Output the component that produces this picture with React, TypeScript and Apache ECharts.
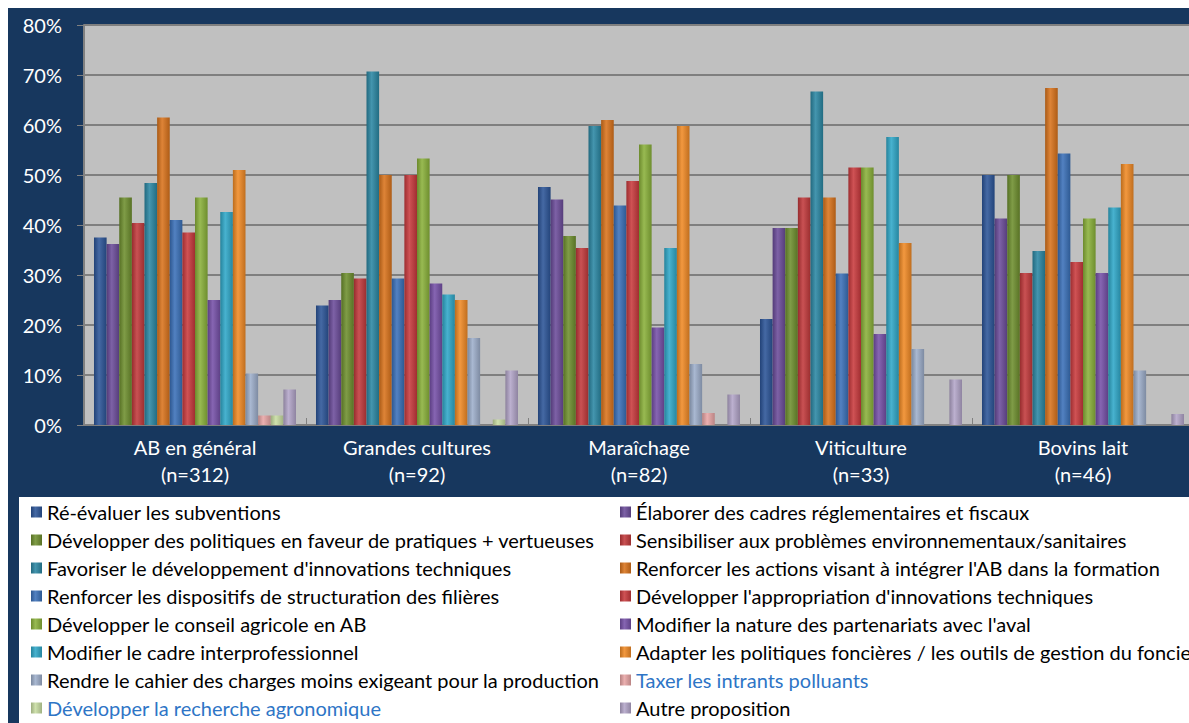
import React, { useEffect, useRef } from "react";
import * as echarts from "echarts";

const categories = [
  "AB en général\n(n=312)",
  "Grandes cultures\n(n=92)",
  "Maraîchage\n(n=82)",
  "Viticulture\n(n=33)",
  "Bovins lait\n(n=46)",
];

const seriesNames = [
  "Ré-évaluer les subventions",
  "Élaborer des cadres réglementaires et fiscaux",
  "Développer des politiques en faveur de pratiques + vertueuses",
  "Sensibiliser aux problèmes environnementaux/sanitaires",
  "Favoriser le développement d'innovations techniques",
  "Renforcer les actions visant à intégrer l'AB dans la formation",
  "Renforcer les dispositifs de structuration des filières",
  "Développer l'appropriation d'innovations techniques",
  "Développer le conseil agricole en AB",
  "Modifier la nature des partenariats avec l'aval",
  "Modifier le cadre interprofessionnel",
  "Adapter les politiques foncières / les outils de gestion du foncier",
  "Rendre le cahier des charges moins exigeant pour la production",
  "Taxer les intrants polluants",
  "Développer la recherche agronomique",
  "Autre proposition",
];

// values (%) per category, in the order of seriesNames
const abGeneral = [37.5, 36.2, 45.5, 40.4, 48.4, 61.5, 41.0, 38.5, 45.5, 25.0, 42.6, 51.0, 10.3, 1.9, 1.9, 7.1];
const grandesCultures = [23.9, 25.0, 30.4, 29.3, 70.7, 50.0, 29.3, 50.0, 53.3, 28.3, 26.1, 25.0, 17.4, 0, 1.1, 10.9];
const maraichage = [47.6, 45.1, 37.8, 35.4, 59.8, 61.0, 43.9, 48.8, 56.1, 19.5, 35.4, 59.8, 12.2, 2.4, 0, 6.1];
const viticulture = [21.2, 39.4, 39.4, 45.5, 66.7, 45.5, 30.3, 51.5, 51.5, 18.2, 57.6, 36.4, 15.2, 0, 0, 9.1];
const bovinsLait = [50.0, 41.3, 50.0, 30.4, 34.8, 67.4, 54.3, 32.6, 41.3, 30.4, 43.5, 52.2, 10.9, 0, 0, 2.2];

const yTicks = [0, 10, 20, 30, 40, 50, 60, 70, 80];

const seriesColors = [
  "#2C5598", "#6B4C9A", "#6E8F2E", "#C2393B",
  "#2B87A3", "#D9731C", "#3A70B8", "#C93A3D",
  "#8AB13A", "#7650A8", "#2FA8C8", "#F08A25",
  "#9DAECB", "#E8A5A5", "#C8DDA2", "#B3A5C9",
];

const blueLegend = ["Taxer les intrants polluants", "Développer la recherche agronomique"];

function shade(hex: string, f: number): string {
  const n = parseInt(hex.slice(1), 16);
  let r = (n >> 16) & 255, g = (n >> 8) & 255, b = n & 255;
  if (f < 1) {
    r = Math.round(r * f); g = Math.round(g * f); b = Math.round(b * f);
  } else {
    const t = f - 1;
    r = Math.round(r + (255 - r) * t); g = Math.round(g + (255 - g) * t); b = Math.round(b + (255 - b) * t);
  }
  return "#" + [r, g, b].map((v) => v.toString(16).padStart(2, "0")).join("");
}

export default function App() {
  const ref = useRef<HTMLDivElement>(null);

  useEffect(() => {
    if (!ref.current) return;
    const chart = echarts.init(ref.current, null, { renderer: "svg" });
    const byCategory = [abGeneral, grandesCultures, maraichage, viticulture, bovinsLait];
    const font = "Lato, 'Open Sans', sans-serif";

    const series = seriesNames.map((name, i) => {
      const c = seriesColors[i];
      return {
        name,
        type: "bar",
        barGap: "0%",
        barCategoryGap: "9%",
        data: byCategory.map((arr) => arr[i]),
        itemStyle: {
          color: new echarts.graphic.LinearGradient(0, 0, 1, 0, [
            { offset: 0, color: shade(c, 0.78) },
            { offset: 0.4, color: shade(c, 1.12) },
            { offset: 1, color: shade(c, 0.8) },
          ]),
        },
      };
    });

    const legendItem = (name: string) =>
      blueLegend.includes(name)
        ? { name, textStyle: { color: "#2E75C6" } }
        : { name };

    const legendBase = {
      orient: "vertical",
      top: 494,
      padding: 0,
      itemGap: 8,
      itemWidth: 11,
      itemHeight: 11,
      icon: "rect",
      z: 5,
      selectedMode: false,
      textStyle: { fontFamily: font, fontSize: 20, lineHeight: 20, color: "#000" },
    };

    chart.setOption({
      animation: false,
      backgroundColor: "#17375E",
      graphic: [
        {
          type: "rect",
          left: 11,
          top: 489,
          z: 0,
          shape: { width: 1300, height: 300 },
          style: { fill: "#ffffff" },
        },
      ],
      legend: [
        { ...legendBase, left: 23, data: seriesNames.filter((_, i) => i % 2 === 0).map(legendItem) },
        { ...legendBase, left: 612, data: seriesNames.filter((_, i) => i % 2 === 1).map(legendItem) },
      ],
      grid: {
        left: 76,
        right: 14,
        top: 17,
        bottom: 313,
        show: true,
        backgroundColor: "#C0C0C0",
        borderWidth: 0,
      },
      xAxis: {
        type: "category",
        data: categories,
        axisLine: { show: true, lineStyle: { color: "#808080", width: 2 } },
        axisTick: { show: true, inside: true, length: 7, lineStyle: { color: "#808080" } },
        axisLabel: {
          interval: 0,
          color: "#ffffff",
          fontFamily: font,
          fontSize: 20,
          lineHeight: 27,
          margin: 8,
        },
      },
      yAxis: {
        type: "value",
        min: yTicks[0],
        max: yTicks[yTicks.length - 1],
        interval: 10,
        axisLine: { show: true, lineStyle: { color: "#808080", width: 2 } },
        axisTick: { show: true, length: 7, lineStyle: { color: "#808080" } },
        axisLabel: {
          formatter: "{value}%",
          color: "#ffffff",
          fontFamily: font,
          fontSize: 20,
          margin: 22,
        },
        splitLine: { show: true, lineStyle: { color: "#7F7F7F", width: 2 } },
      },
      series,
    });

    return () => chart.dispose();
  }, []);

  return (
    <div
      style={{
        position: "fixed",
        left: 8,
        top: 8,
        width: 1181,
        height: 715,
        overflow: "hidden",
      }}
    >
      <div ref={ref} style={{ width: 1200, height: 730 }} />
    </div>
  );
}
